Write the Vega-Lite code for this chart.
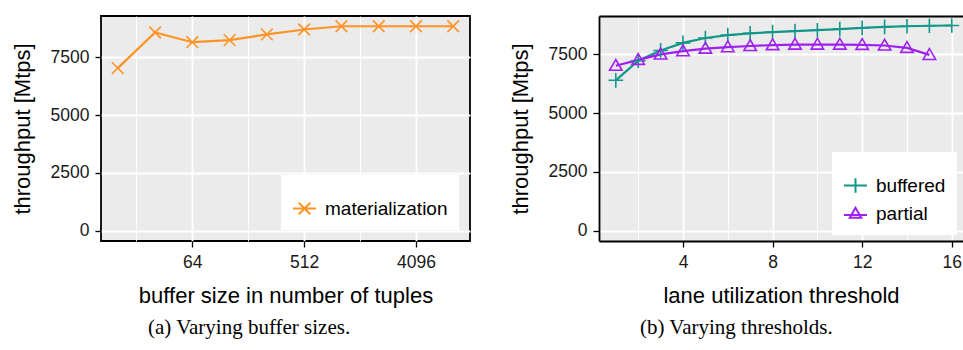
{
  "$schema": "https://vega.github.io/schema/vega-lite/v6.json",
  "padding": {"left": 10, "top": 14, "right": 0, "bottom": 0},
  "background": "white",
  "spacing": 38,
  "resolve": {"scale": {"color": "independent", "shape": "independent", "size": "independent", "x": "independent", "y": "independent"}, "legend": {"color": "independent", "shape": "independent", "size": "independent"}},
  "config": {
    "font": "Liberation Sans",
    "axis": {
      "labelFont": "Liberation Sans", "labelFontSize": 17.5, "labelColor": "#1a1a1a",
      "titleFont": "Liberation Sans", "titleFontSize": 22, "titleFontWeight": "normal", "titleColor": "#000",
      "tickColor": "#000", "tickSize": 6, "tickWidth": 1.3,
      "domainColor": "#000", "domainWidth": 1.8,
      "gridColor": "white", "labelPadding": 6, "labelOverlap": false, "labelFlush": false
    },
    "view": {"fill": "#EBEBEB", "stroke": "#000", "strokeWidth": 1.8},
    "legend": {
      "orient": "bottom-right", "offset": 11, "padding": 11,
      "fillColor": "white", "strokeColor": null,
      "labelFont": "Liberation Sans", "labelFontSize": 19, "labelColor": "#000",
      "symbolSize": 529, "symbolStrokeWidth": 2, "symbolOpacity": 1, "rowPadding": 4, "labelOffset": 8,
      "titleFontSize": 10, "titlePadding": 0, "labelLimit": 300
    },
    "title": {
      "font": "Liberation Serif", "fontSize": 21, "fontWeight": "normal", "color": "#000",
      "orient": "bottom", "anchor": "start", "frame": "group", "offset": 10
    }
  },
  "hconcat": [
    {
      "width": 369,
      "height": 225,
      "title": {"text": "(a) Varying buffer sizes.", "dx": 47},
      "data": {"values": [
        {"buf": 16, "tp": 7040, "series": "materialization"},
        {"buf": 32, "tp": 8580, "series": "materialization"},
        {"buf": 64, "tp": 8160, "series": "materialization"},
        {"buf": 128, "tp": 8250, "series": "materialization"},
        {"buf": 256, "tp": 8500, "series": "materialization"},
        {"buf": 512, "tp": 8710, "series": "materialization"},
        {"buf": 1024, "tp": 8850, "series": "materialization"},
        {"buf": 2048, "tp": 8850, "series": "materialization"},
        {"buf": 4096, "tp": 8850, "series": "materialization"},
        {"buf": 8192, "tp": 8850, "series": "materialization"}
      ]},
      "layer": [
        {
          "mark": {"type": "line", "strokeWidth": 2.2, "color": "#ff9326"},
          "encoding": {
            "x": {"field": "buf", "type": "quantitative",
              "scale": {"type": "log", "base": 2, "domain": [11.71, 11190], "nice": false},
              "axis": {"title": "buffer size in number of tuples", "domain": false,
                "values": [22.627, 64, 181.02, 512, 1448.15, 4096],
                "labelExpr": "(datum.value == 64 || datum.value == 512 || datum.value == 4096) ? format(datum.value, 'd') : ''",
                "tickOpacity": {"condition": {"test": "datum.value == 64 || datum.value == 512 || datum.value == 4096", "value": 1}, "value": 0},
                "gridWidth": {"condition": {"test": "datum.value == 64 || datum.value == 512 || datum.value == 4096", "value": 1.8}, "value": 0.9},
                "titlePadding": 15}},
            "y": {"field": "tp", "type": "quantitative",
              "scale": {"domain": [-443, 9294], "nice": false, "zero": false},
              "axis": {"title": "throughput [Mtps]", "domain": false,
                "values": [0, 1250, 2500, 3750, 5000, 6250, 7500, 8750],
                "labelExpr": "datum.value % 2500 == 0 ? format(datum.value, 'd') : ''",
                "tickOpacity": {"condition": {"test": "datum.value % 2500 == 0", "value": 1}, "value": 0},
                "gridWidth": {"condition": {"test": "datum.value % 2500 == 0", "value": 1.8}, "value": 0.9},
                "titlePadding": 16}}
          }
        },
        {
          "mark": {"type": "point", "shape": "M-1,-1L1,1M-1,1L1,-1", "size": 137, "filled": false, "strokeWidth": 1.6, "opacity": 1},
          "encoding": {
            "x": {"field": "buf", "type": "quantitative"},
            "y": {"field": "tp", "type": "quantitative"},
            "color": {"field": "series", "type": "nominal",
              "scale": {"domain": ["materialization"], "range": ["#ff9326"]},
              "legend": {"title": " ",
                "symbolType": "M-1,0L1,0M-0.5,-0.5L0.5,0.5M-0.5,0.5L0.5,-0.5"}}
          }
        }
      ]
    },
    {
      "width": 364,
      "height": 225,
      "view": {"stroke": null, "fill": "#EBEBEB"},
      "title": {"text": "(b) Varying thresholds.", "dx": 41},
      "data": {"values": [
        {"thr": 1, "tp": 6400, "series": "buffered"},
        {"thr": 2, "tp": 7230, "series": "buffered"},
        {"thr": 3, "tp": 7670, "series": "buffered"},
        {"thr": 4, "tp": 7990, "series": "buffered"},
        {"thr": 5, "tp": 8200, "series": "buffered"},
        {"thr": 6, "tp": 8320, "series": "buffered"},
        {"thr": 7, "tp": 8400, "series": "buffered"},
        {"thr": 8, "tp": 8450, "series": "buffered"},
        {"thr": 9, "tp": 8490, "series": "buffered"},
        {"thr": 10, "tp": 8530, "series": "buffered"},
        {"thr": 11, "tp": 8580, "series": "buffered"},
        {"thr": 12, "tp": 8630, "series": "buffered"},
        {"thr": 13, "tp": 8670, "series": "buffered"},
        {"thr": 14, "tp": 8700, "series": "buffered"},
        {"thr": 15, "tp": 8720, "series": "buffered"},
        {"thr": 16, "tp": 8730, "series": "buffered"},
        {"thr": 1, "tp": 7020, "series": "partial"},
        {"thr": 2, "tp": 7270, "series": "partial"},
        {"thr": 3, "tp": 7500, "series": "partial"},
        {"thr": 4, "tp": 7640, "series": "partial"},
        {"thr": 5, "tp": 7750, "series": "partial"},
        {"thr": 6, "tp": 7810, "series": "partial"},
        {"thr": 7, "tp": 7860, "series": "partial"},
        {"thr": 8, "tp": 7900, "series": "partial"},
        {"thr": 9, "tp": 7920, "series": "partial"},
        {"thr": 10, "tp": 7920, "series": "partial"},
        {"thr": 11, "tp": 7920, "series": "partial"},
        {"thr": 12, "tp": 7910, "series": "partial"},
        {"thr": 13, "tp": 7880, "series": "partial"},
        {"thr": 14, "tp": 7780, "series": "partial"},
        {"thr": 15, "tp": 7480, "series": "partial"}
      ]},
      "resolve": {"axis": {"x": "independent"}, "scale": {"color": "independent", "shape": "independent", "size": "independent"}},
      "layer": [
        {
          "mark": {"type": "line", "strokeWidth": 2.2},
          "encoding": {
            "x": {"field": "thr", "type": "quantitative",
              "scale": {"domain": [0.25, 16.5], "nice": false, "zero": false},
              "axis": {"title": "lane utilization threshold", "orient": "bottom", "domain": true,
                "values": [2, 4, 6, 8, 10, 12, 14, 16],
                "labelExpr": "datum.value % 4 == 0 ? format(datum.value, 'd') : ''",
                "tickOpacity": {"condition": {"test": "datum.value % 4 == 0", "value": 1}, "value": 0},
                "gridWidth": {"condition": {"test": "datum.value % 4 == 0", "value": 1.8}, "value": 0.9},
                "titlePadding": 15}},
            "y": {"field": "tp", "type": "quantitative",
              "scale": {"domain": [-435, 9135], "nice": false, "zero": false},
              "axis": {"title": "throughput [Mtps]", "domain": true,
                "values": [0, 1250, 2500, 3750, 5000, 6250, 7500, 8750],
                "labelExpr": "datum.value % 2500 == 0 ? format(datum.value, 'd') : ''",
                "tickOpacity": {"condition": {"test": "datum.value % 2500 == 0", "value": 1}, "value": 0},
                "gridWidth": {"condition": {"test": "datum.value % 2500 == 0", "value": 1.8}, "value": 0.9},
                "titlePadding": 16}},
            "color": {"field": "series", "type": "nominal",
              "scale": {"domain": ["buffered", "partial"], "range": ["#11968a", "#a020f0"]},
              "legend": null}
          }
        },
        {
          "mark": {"type": "point", "filled": false, "strokeWidth": 1.6, "opacity": 1},
          "encoding": {
            "x": {"field": "thr", "type": "quantitative",
              "scale": {"domain": [0.25, 16.5], "nice": false, "zero": false},
              "axis": {"title": null, "orient": "top", "domain": true, "labels": false, "ticks": false, "grid": false}},
            "y": {"field": "tp", "type": "quantitative"},
            "shape": {"field": "series", "type": "nominal",
              "scale": {"domain": ["buffered", "partial"], "range": ["M-1,0L1,0M0,-1L0,1", "M0,-1L1,0.73L-1,0.73Z"]},
              "legend": null},
            "size": {"field": "series", "type": "nominal",
              "scale": {"domain": ["buffered", "partial"], "range": [215, 155]},
              "legend": null},
            "color": {"field": "series", "type": "nominal",
              "scale": {"domain": ["buffered", "partial"], "range": ["#11968a", "#a020f0"]},
              "legend": null}
          }
        },
        {
          "mark": {"type": "point", "filled": false, "strokeWidth": 2, "opacity": 0},
          "encoding": {
            "x": {"field": "thr", "type": "quantitative", "axis": null},
            "y": {"field": "tp", "type": "quantitative"},
            "shape": {"field": "series", "type": "nominal",
              "scale": {"domain": ["buffered", "partial"], "range": ["M-1,0L1,0M0,-0.62L0,0.62", "M-1,0.12L1,0.12M0,-0.5L0.5,0.38L-0.5,0.38Z"]}},
            "color": {"field": "series", "type": "nominal",
              "scale": {"domain": ["buffered", "partial"], "range": ["#11968a", "#a020f0"]},
              "legend": {"title": " ", "offset": 6}}
          }
        }
      ]
    }
  ]
}
